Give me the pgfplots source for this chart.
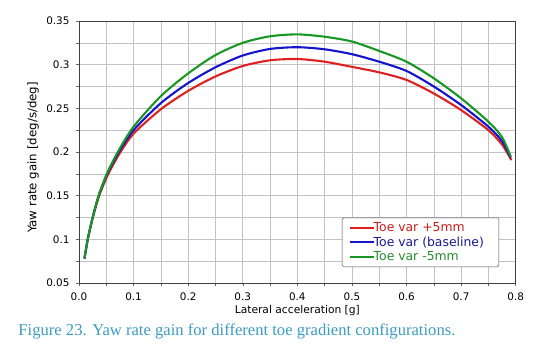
\documentclass[border=0pt]{standalone}
\usepackage{pgfplots}
\pgfplotsset{compat=1.18}
\usepackage{pgfplotstable}
\usepackage{fontspec}
\setmainfont{DejaVu Sans}
\newfontfamily\capfont{Liberation Serif}
\definecolor{cred}{RGB}{222,32,32}
\definecolor{cblue}{RGB}{20,20,205}
\definecolor{cgreen}{RGB}{25,150,35}
\definecolor{tred}{RGB}{200,30,30}
\definecolor{tblue}{RGB}{25,25,150}
\definecolor{tgreen}{RGB}{40,140,45}
\definecolor{capblue}{RGB}{58,156,192}
\definecolor{gridgray}{RGB}{195,195,195}

\pgfplotstableread{
x y
0.010 0.078
0.016 0.100
0.025 0.124
0.037 0.150
0.053 0.174
0.074 0.198
0.100 0.221
0.150 0.249
0.200 0.270
0.250 0.2865
0.300 0.2985
0.350 0.305
0.400 0.3065
0.450 0.3034
0.500 0.2975
0.550 0.2912
0.600 0.2825
0.650 0.267
0.700 0.248
0.750 0.225
0.775 0.2085
0.792 0.1908
}\redtab
\pgfplotstableread{
x y
0.010 0.078
0.016 0.100
0.025 0.125
0.036 0.150
0.051 0.174
0.072 0.199
0.100 0.225
0.150 0.256
0.200 0.279
0.250 0.297
0.300 0.3105
0.350 0.318
0.400 0.320
0.450 0.3176
0.500 0.312
0.550 0.3034
0.600 0.2928
0.650 0.275
0.700 0.2538
0.750 0.229
0.775 0.2125
0.791 0.1935
}\bluetab
\pgfplotstableread{
x y
0.010 0.078
0.016 0.100
0.025 0.125
0.036 0.150
0.051 0.175
0.071 0.200
0.100 0.229
0.150 0.264
0.200 0.290
0.250 0.311
0.300 0.325
0.350 0.3325
0.400 0.3347
0.450 0.332
0.500 0.3265
0.550 0.3157
0.600 0.3034
0.650 0.2844
0.700 0.2615
0.750 0.2347
0.775 0.2170
0.791 0.1946
}\greentab

\begin{document}
\begin{tikzpicture}
\path[use as bounding box] (-79pt,-71pt) rectangle (463pt,283pt);
\begin{axis}[
  at={(0pt,0pt)}, anchor=south west,
  scale only axis,
  width=436.7pt, height=262pt,
  xmin=0, xmax=0.8, ymin=0.05, ymax=0.35,
  xtick={0,0.1,...,0.8},
  xticklabels={0.0,0.1,0.2,0.3,0.4,0.5,0.6,0.7,0.8},
  minor xtick={0.05,0.15,...,0.75},
  ytick={0.05,0.1,0.15,0.2,0.25,0.3,0.35},
  yticklabels={0.05,0.1,0.15,0.2,0.25,0.3,0.35},
  minor ytick={0.075,0.125,...,0.325},
  grid=both,
  major grid style={gridgray, line width=0.6pt},
  minor grid style={gridgray, line width=0.6pt},
  axis line style={black!75, line width=0.9pt},
  tick align=outside,
  major tick length=3pt, minor tick length=3pt,
  tick style={black!60, line width=0.5pt},
  xtick pos=bottom, ytick pos=left,
  tick label style={font=\fontsize{10.4}{12}\selectfont},
  xticklabel style={yshift=-3pt},
  yticklabel style={xshift=-3pt},
  xlabel={Lateral acceleration [g]},
  ylabel={Yaw rate gain [deg/s/deg]},
  x label style={at={(axis description cs:0.5,-0.104)}, anchor=center, font=\fontsize{10.7}{12}\selectfont},
  y label style={at={(axis description cs:-0.105,0.479)}, anchor=center, font=\fontsize{11.8}{13}\selectfont},
  legend style={at={(0.962,0.061)}, anchor=south east, draw=black!70, rounded corners=1.5pt,
    font=\fontsize{12.4}{15}\selectfont, inner xsep=7pt, inner ysep=3pt,
    row sep=-0.5pt, legend cell align=left},
  legend image code/.code={\draw[#1, line width=2pt] (0pt,0pt) -- (24pt,0pt);},
  every axis plot/.append style={line width=2.1pt, smooth, tension=0.45},
]
\addplot[cred] table[x=x,y=y] {\redtab};
\addlegendentry{\hspace*{-3.5pt}\textcolor{tred}{Toe var +5mm}}
\addplot[cblue] table[x=x,y=y] {\bluetab};
\addlegendentry{\hspace*{-3.5pt}\textcolor{tblue}{Toe var (baseline)}\hspace*{6pt}}
\addplot[cgreen] table[x=x,y=y] {\greentab};
\addlegendentry{\hspace*{-3.5pt}\textcolor{tgreen}{Toe var -5mm}}
\end{axis}
\node[anchor=base west, text=capblue, inner sep=0pt, font=\capfont\fontsize{16.6}{18}\selectfont] at (-60.7pt,-52pt) {Figure 23. Yaw rate gain for different toe gradient configurations.};
\end{tikzpicture}
\end{document}
